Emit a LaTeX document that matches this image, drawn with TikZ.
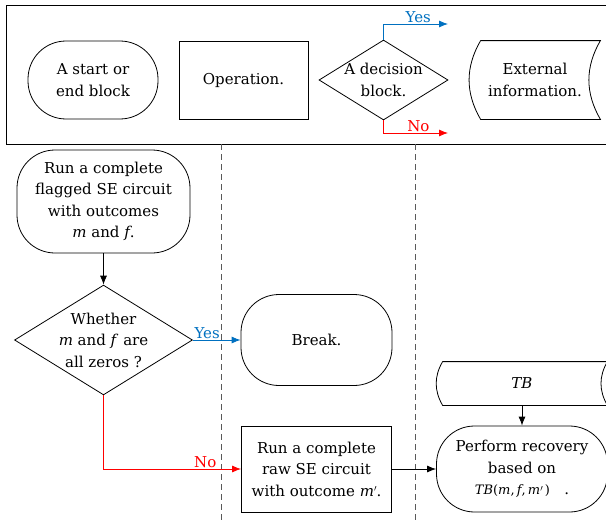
\documentclass[tikz,border=0pt]{standalone}
\usepackage{fontspec}
\setmainfont{DejaVu Serif}
\usetikzlibrary{shapes, arrows, arrows.meta}
\definecolor{yesblue}{RGB}{0,112,192}
\definecolor{nored}{RGB}{255,0,0}
\tikzstyle{startstop} = [rectangle, rounded corners=38pt, 
minimum width=130pt, 
minimum height=78pt,
align=center, 
draw=black]
\tikzstyle{process} = [rectangle, 
minimum width=130pt, 
minimum height=78pt, 
align=center, 
draw=black]
\tikzstyle{decision} = [diamond, 
shape aspect=1.62, 
inner sep=0pt, 
align=center, 
draw=black]
\tikzstyle{data} = [rectangle, 
minimum width=130pt, 
minimum height=78pt, 
align=center]
\tikzstyle{arrow} = [->,>={Latex[length=9pt, width=7pt]}]
\tikzstyle{lane} = [draw=black!65, dash pattern=on 6pt off 4pt]
% outline of a data block: both sides bent to the left
\newcommand{\datapath}[2]{%
\draw ([xshift=#2]#1.north west) -- (#1.north east) to[out=240, in=120] (#1.south east) -- ([xshift=#2]#1.south west) to[out=120, in=240] ([xshift=#2]#1.north west);}
\newcommand{\mprime}{\textit{m}\raisebox{0.55ex}{\fontsize{9pt}{9pt}\selectfont$\prime$}}

\begin{document}
\begin{tikzpicture}[x=1pt, y=1pt, line width=0.8pt, font=\fontsize{15pt}{21.5pt}\selectfont]
\useasboundingbox (0,0) rectangle (606,-522);

% legend
\draw (6,-5) rectangle (612,-144);
\node (key1) [startstop] at (93,-80) {A start or\\end block};
\node (key2) [process, right of=key1, node distance=150.5pt, minimum width=129pt] {Operation.};
\node (key3) [decision, right of=key2, node distance=140pt, minimum width=129pt, minimum height=80pt, inner sep=-4pt] {A decision\\block.};
\node (key4) [data, right of=key3, node distance=151.5pt] {External\\information.};
\datapath{key4}{11pt}
\coordinate (keyyes) at (448,-24);
\coordinate (keyno) at (448,-133);
\draw [arrow, yesblue] (key3.north) |- node[pos=0.77, above, inner sep=1pt] {Yes} (keyyes);
\draw [arrow, nored] (key3.south) |- node[pos=0.77, above, inner sep=1pt] {No} (keyno);

% lanes
\draw [lane] (221,-144) -- (221,-522);
\draw [lane] (415,-144) -- (415,-522);

% flow
\node (run) [startstop, minimum width=173pt, minimum height=103pt] at (103.5,-201.5) {Run a complete\\flagged SE circuit\\with outcomes\\\textit{m} and \textit{f}.};
\node (check) [decision, below of=run, node distance=138.5pt, minimum width=172pt, minimum height=106pt] {Whether\\\textit{m} and \textit{f} are\\all zeros ?};
\node (stop) [startstop, right of=check, node distance=213pt, minimum width=151pt, minimum height=91pt] {Break.};
\node (raw) [process, below of=stop, node distance=129pt, minimum width=150pt, minimum height=86pt] {Run a complete\\raw SE circuit\\with outcome \mprime.};
\node (rec) [startstop, right of=raw, node distance=205.5pt, minimum width=171pt, minimum height=86pt] {Perform recovery\\based on\\{\fontsize{13pt}{14pt}\selectfont \textit{TB}(\textit{m},\,\textit{f},\,\mprime\,)}\ \ \ .};
\node (tb) [data, above of=rec, node distance=85.5pt, minimum width=170pt, minimum height=43pt] {\textit{TB}};
\datapath{tb}{6pt}

\draw [arrow] (run) -- (check);
\draw [arrow, yesblue] (check) -- node[pos=0.3, above, inner sep=1pt] {Yes} (stop);
\draw [arrow, nored] (check.south) |- node[pos=0.87, above, inner sep=1pt] {No} (raw.west);
\draw [arrow] (raw) -- (rec);
\draw [arrow] (tb) -- (rec);

\end{tikzpicture}
\end{document}
